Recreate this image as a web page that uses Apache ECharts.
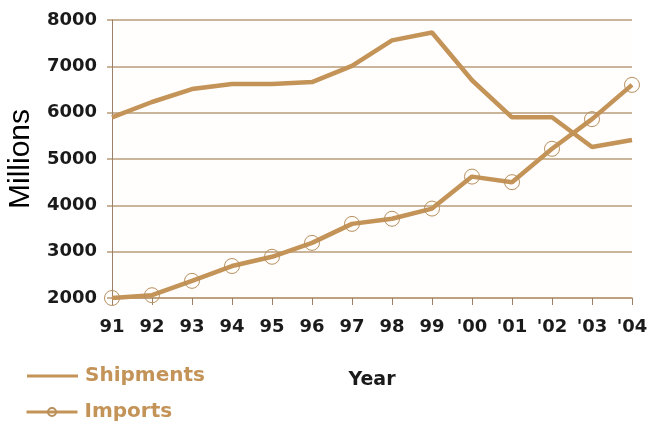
<!DOCTYPE html>
<html>
<head>
<meta charset="utf-8">
<script src="https://cdn.jsdelivr.net/npm/echarts@6/dist/echarts.min.js"></script>
<style>
  html, body { margin: 0; padding: 0; background: #ffffff; }
  #chart { width: 652px; height: 425px; }
</style>
</head>
<body>
<div id="chart"></div>
<script>
// Years on the horizontal axis
const years = ['91', '92', '93', '94', '95', '96', '97', '98', '99', "'00", "'01", "'02", "'03", "'04"];

// Values in millions
const shipments = [5900, 6230, 6510, 6620, 6620, 6660, 7010, 7560, 7730, 6700, 5900, 5900, 5260, 5410];
const imports   = [2000, 2060, 2370, 2690, 2890, 3190, 3600, 3710, 3930, 4620, 4500, 5220, 5860, 6600];

// Value axis range and step
const yMin = 2000;
const yMax = 8000;
const yStep = 1000;

const tan = '#c39358';
const gridColor = '#b89c7a';
const axisColor = '#9c8067';
const boldFont = '"DejaVu Sans", "Liberation Sans", Arial, sans-serif';
const plainFont = '"Liberation Sans", Arial, sans-serif';

const legendText = { color: tan, fontSize: 20, fontWeight: 'bold', fontFamily: boldFont, padding: [0, 0, 0, 2] };

const chart = echarts.init(document.getElementById('chart'), null, { renderer: 'canvas' });

chart.setOption({
  backgroundColor: '#ffffff',
  animation: false,
  textStyle: { fontFamily: plainFont },
  grid: {
    left: 112, right: 20, top: 20, bottom: 127,
    containLabel: false,
    outerBoundsMode: 'none',
    show: true, backgroundColor: '#fffefc', borderWidth: 0
  },
  legend: [
    {
      left: 22, top: 361,
      itemWidth: 51, itemHeight: 12,
      selectedMode: false,
      textStyle: legendText,
      data: [{ name: 'Shipments', icon: 'path://M0,0 L51,0 L51,3 L0,3 Z' }]
    },
    {
      left: 20, top: 397,
      itemWidth: 51, itemHeight: 10,
      selectedMode: false,
      lineStyle: { width: 3 },
      textStyle: legendText,
      data: ['Imports']
    }
  ],
  xAxis: {
    type: 'category',
    data: years,
    boundaryGap: false,
    name: 'Year',
    nameLocation: 'middle',
    nameGap: 73,
    nameTextStyle: { color: '#1a1a1a', fontSize: 19, fontWeight: 'bold', fontFamily: boldFont },
    axisLine: { show: true, lineStyle: { color: gridColor, width: 1.5 } },
    axisTick: { show: true, alignWithLabel: true, interval: 0, length: 7, lineStyle: { color: axisColor, width: 1 } },
    axisLabel: { color: '#1a1a1a', fontSize: 18, fontWeight: 'bold', margin: 20, interval: 0, hideOverlap: false, fontFamily: boldFont },
    splitLine: { show: false }
  },
  yAxis: {
    type: 'value',
    min: yMin,
    max: yMax,
    interval: yStep,
    name: 'Millions',
    nameLocation: 'middle',
    nameRotate: 90,
    nameGap: 76,
    nameTextStyle: { color: '#000000', fontSize: 30, fontFamily: plainFont },
    axisLine: { show: true, lineStyle: { color: axisColor, width: 1 } },
    axisTick: { show: true, length: 5, lineStyle: { color: gridColor, width: 1.5 } },
    axisLabel: {
      color: '#1a1a1a', fontSize: 18, fontWeight: 'bold', margin: 15, fontFamily: boldFont,
      formatter: function (v) { return String(v); }
    },
    splitLine: { show: true, lineStyle: { color: gridColor, width: 1.5 } }
  },
  series: [
    {
      name: 'Shipments',
      type: 'line',
      data: shipments,
      symbol: 'none',
      lineStyle: { color: tan, width: 4.5 },
      itemStyle: { color: tan },
      z: 3
    },
    {
      name: 'Imports',
      type: 'line',
      data: imports,
      symbol: 'circle',
      symbolSize: 15,
      showAllSymbol: true,
      lineStyle: { color: tan, width: 4.5 },
      itemStyle: { color: 'rgba(255,255,255,0)', borderColor: '#b8905e', borderWidth: 1 },
      z: 4
    }
  ]
});
</script>
</body>
</html>
